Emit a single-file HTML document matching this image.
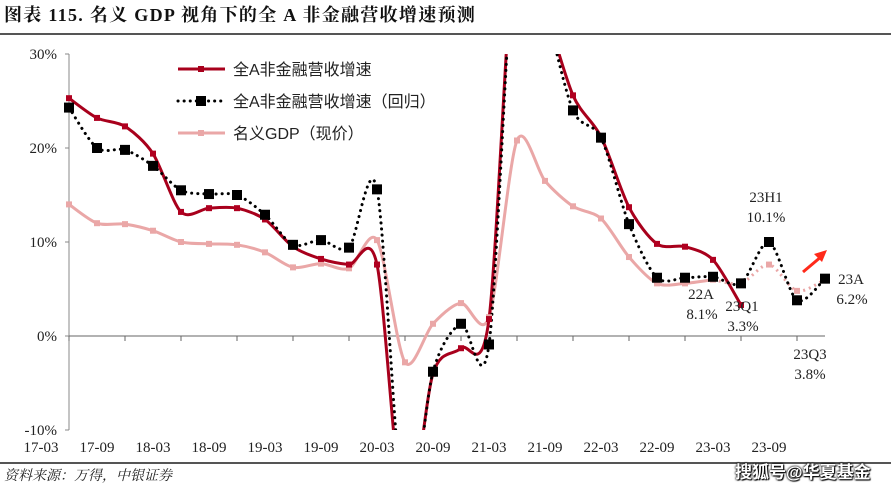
<!DOCTYPE html>
<html><head><meta charset="utf-8">
<style>
html,body{margin:0;padding:0;width:891px;height:490px;overflow:hidden;}
body{background:#fff;position:relative;font-family:"Liberation Serif","Noto Serif CJK SC",serif;line-height:1.1;}
#title{position:absolute;left:4px;top:6px;font-size:18px;font-weight:bold;color:#111;letter-spacing:1.3px;white-space:nowrap;}
#tline{position:absolute;left:0;top:33px;width:891px;height:2px;background:#555;}
#fline{position:absolute;left:0;top:462px;width:891px;height:2px;background:#555;}
#src{position:absolute;left:4px;top:469px;font-size:14px;font-style:italic;color:#222;}
#wm{position:absolute;left:735px;top:464px;font-size:17px;font-weight:bold;color:#fff;font-family:"Liberation Sans","Noto Sans CJK SC",sans-serif;text-shadow:0 0 2px #000,0 0 2px #000,1px 1px 1px #000;}
svg{position:absolute;left:0;top:0;}
</style></head><body>
<div id="title">图表 115. 名义 GDP 视角下的全 A 非金融营收增速预测</div>
<div id="tline"></div>
<svg id="chart" width="891" height="490"></svg>
<div id="fline"></div>
<div id="src">资料来源：万得，中银证券</div>
<div id="wm">搜狐号@华夏基金</div>
<script>
const periods=["17-03","17-06","17-09","17-12","18-03","18-06","18-09","18-12","19-03","19-06","19-09","19-12","20-03","20-06","20-09","20-12","21-03","21-06","21-09","21-12","22-03","22-06","22-09","22-12","23-03","23-06","23-09","23-12"];
const xTickLabels=["17-03","17-09","18-03","18-09","19-03","19-09","20-03","20-09","21-03","21-09","22-03","22-09","23-03","23-09"];
const yTicks=[-10,0,10,20,30];
const revenue=[25.3,23.2,22.3,19.4,13.2,13.6,13.6,12.4,9.5,8.2,7.6,7.6,-20,-4,-1.3,1.8,45,35,25.6,21.2,13.7,9.8,9.5,8.1,3.3,null,null,null];
const revenueReg=[24.3,20.0,19.8,18.1,15.5,15.1,15.0,12.9,9.7,10.2,9.4,15.6,-20,-3.8,1.3,-0.9,45,35,24.0,21.1,11.9,6.2,6.2,6.3,5.6,10.0,3.8,6.1];
const gdp=[14.0,12.0,11.9,11.2,10.0,9.8,9.7,8.9,7.3,7.7,7.2,10.2,-2.8,1.3,3.5,2.0,20.8,16.5,13.8,12.5,8.4,5.6,5.6,6.0,5.6,7.6,4.8,6.0];
const NS="http://www.w3.org/2000/svg";
const svg=document.getElementById('chart');
const X0=69,DX=28,Y0=336,PY=9.4;
const xs=i=>X0+i*DX, ys=v=>Y0-v*PY;
function mk(t,a,p){const e=document.createElementNS(NS,t);for(const k in a)e.setAttribute(k,a[k]);(p||svg).appendChild(e);return e;}
const defs=mk('defs',{});
const cp=mk('clipPath',{id:'clip'},defs);
mk('rect',{x:60,y:54,width:830,height:376},cp);
const yAxis=mk('line',{x1:X0,y1:ys(30),x2:X0,y2:ys(-10),stroke:'#888','stroke-width':1});


yTicks.forEach(v=>{
  mk('line',{x1:X0-4,y1:ys(v),x2:X0,y2:ys(v),stroke:'#888'});
  const t=mk('text',{x:X0-12,y:ys(v)+5,'text-anchor':'end','font-size':15,fill:'#222'});
  t.textContent=v+'%';
  
  
});
const xAxis=mk('line',{x1:X0,y1:Y0,x2:xs(27),y2:Y0,stroke:'#666','stroke-width':1});


for(let i=0;i<periods.length;i+=2){mk('line',{x1:xs(i),y1:Y0,x2:xs(i),y2:Y0+5,stroke:'#666'});}
xTickLabels.forEach((l,i)=>{
  const t=mk('text',{x:xs(i*2)-28,y:452,'text-anchor':'middle','font-size':15,fill:'#222'});
  t.textContent=l;
  
  
});
function pathFor(data,from,to){
  const pts=[];for(let i=from;i<=to;i++)if(data[i]!=null)pts.push([xs(i),ys(data[i])]);
  let d='M'+pts[0][0]+','+pts[0][1];
  const k=7;
  for(let i=0;i<pts.length-1;i++){
    const p0=pts[i-1]||pts[i],p1=pts[i],p2=pts[i+1],p3=pts[i+2]||p2;
    const c1=[p1[0]+(p2[0]-p0[0])/k,p1[1]+(p2[1]-p0[1])/k],c2=[p2[0]-(p3[0]-p1[0])/k,p2[1]-(p3[1]-p1[1])/k];
    d+=` C${c1[0]},${c1[1]} ${c2[0]},${c2[1]} ${p2[0]},${p2[1]}`;
  }
  return d;
}
const g=mk('g',{'clip-path':'url(#clip)'});
let e=mk('path',{d:pathFor(gdp,0,23),fill:'none',stroke:'#eaa7a7','stroke-width':3},g);

e=mk('path',{d:pathFor(gdp,23,27),fill:'none',stroke:'#eaa7a7','stroke-width':3,'stroke-dasharray':'2 4'},g);

e=mk('path',{d:pathFor(revenue,0,24),fill:'none',stroke:'#a8001c','stroke-width':3},g);

e=mk('path',{d:pathFor(revenueReg,0,27),fill:'none',stroke:'#000','stroke-width':3,'stroke-dasharray':'0.1 6','stroke-linecap':'round'},g);

gdp.forEach((v,i)=>{if(v==null)return;const m=mk('rect',{x:xs(i)-3,y:ys(v)-3,width:6,height:6,fill:'#eaa7a7'},g);
});
revenue.forEach((v,i)=>{if(v==null)return;const m=mk('rect',{x:xs(i)-3,y:ys(v)-3,width:6,height:6,fill:'#b00020'},g);
});
revenueReg.forEach((v,i)=>{if(v==null)return;const m=mk('rect',{x:xs(i)-5,y:ys(v)-5,width:10,height:10,fill:'#000'},g);
});
const L=[['全A非金融营收增速','#a8001c',null,6],['全A非金融营收增速（回归）','#000','0.1 6',10],['名义GDP（现价）','#eaa7a7',null,6]];
L.forEach((l,i)=>{
  const y=69+i*32;
  const lg=mk('g',{});
  
  
  const a={x1:178,y1:y,x2:225,y2:y,stroke:l[1],'stroke-width':3};
  if(l[2]){a['stroke-dasharray']=l[2];a['stroke-linecap']='round';}
  mk('line',a,lg);
  mk('rect',{x:201-l[3]/2,y:y-l[3]/2,width:l[3],height:l[3],fill:l[1]},lg);
  const t=mk('text',{x:233,y:y+6,'font-size':16,fill:'#222','font-family':'"Liberation Sans","Noto Sans CJK SC",sans-serif'},lg);
  t.textContent=l[0];
});
const ann=[['23H1',766,202],['10.1%',766,222],['22A',701,299],['8.1%',702,319],['23Q1',742,311],['3.3%',743,331],['23Q3',810,359],['3.8%',810,379],['23A',851,284],['6.2%',852,304]];
ann.forEach(a=>{const t=mk('text',{x:a[1],y:a[2],'text-anchor':'middle','font-size':15,fill:'#222'});t.textContent=a[0];
});
const ar=mk('g',{});


mk('line',{x1:803,y1:272,x2:822,y2:256,stroke:'#ff2a1a','stroke-width':3},ar);
mk('polygon',{points:'827,250 814,254 822,262',fill:'#ff2a1a'},ar);
</script>
</body></html>
